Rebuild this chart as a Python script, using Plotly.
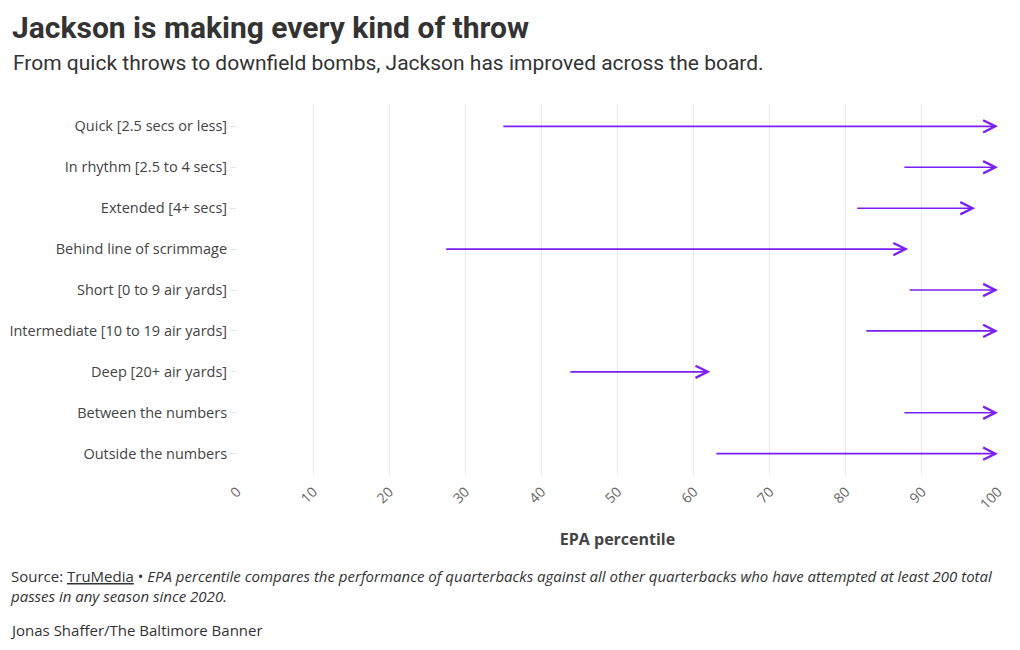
import plotly.graph_objects as go

categories = [
    "Quick [2.5 secs or less]",
    "In rhythm [2.5 to 4 secs]",
    "Extended [4+ secs]",
    "Behind line of scrimmage",
    "Short [0 to 9 air yards]",
    "Intermediate [10 to 19 air yards]",
    "Deep [20+ air yards]",
    "Between the numbers",
    "Outside the numbers",
]
before = [34.8, 87.5, 81.3, 27.3, 88.2, 82.5, 43.6, 87.5, 62.8]
after = [100, 100, 97, 88.2, 100, 100, 62.2, 100, 100]
x_ticks = [0, 10, 20, 30, 40, 50, 60, 70, 80, 90, 100]

PURPLE = "#7a1ff5"
FONT = "Open Sans"

# page body has an 8px margin, so figure coords = screen coords - 8
W, H = 1012, 642
L, R, T, B = 229, 22, 96, 174
PW, PH = W - L - R, H - T - B


def px(xs):
    return (xs - L) / PW


def py(ys):
    return 1 - (ys - T) / PH


fig = go.Figure()
fig.add_trace(go.Scatter(x=before + after, y=categories + categories, mode="markers",
                         marker=dict(opacity=0), hoverinfo="skip", showlegend=False))

for c, b, a in zip(categories, before, after):
    fig.add_annotation(
        x=a, y=c, xref="x", yref="y",
        ax=b, ay=c, axref="x", ayref="y",
        showarrow=True, arrowhead=5, arrowsize=1.5, arrowwidth=1.6,
        arrowcolor=PURPLE, text="", standoff=0, startstandoff=0,
    )

fig.update_layout(
    width=W, height=H,
    margin=dict(l=L, r=R, t=T, b=B, autoexpand=False),
    paper_bgcolor="white", plot_bgcolor="white",
    font=dict(family=FONT, color="#444"),
    showlegend=False,
    xaxis=dict(
        range=[0, 100], tickvals=x_ticks, tickangle=-45,
        showgrid=True, gridcolor="#ebebeb", gridwidth=1,
        zeroline=False, showline=False, automargin=False,
        tickfont=dict(size=14, color="#666"), ticks="", ticklabelstandoff=4,
        title=dict(text="<b>EPA percentile</b>", font=dict(size=16, color="#444"), standoff=22),
    ),
    yaxis=dict(
        categoryorder="array", categoryarray=categories, autorange="reversed",
        showgrid=False, zeroline=False, showline=False, automargin=False,
        ticks="outside", ticklen=6, tickcolor="#e6e6e6",
        tickfont=dict(size=14.5, color="#444"),
    ),
)

fig.add_annotation(
    text="<b>Jackson is making every kind of throw</b>",
    xref="paper", yref="paper", x=px(2), y=py(20), xanchor="left", yanchor="middle",
    showarrow=False, font=dict(family="Roboto", size=30, color="#333"),
)
fig.add_annotation(
    text="From quick throws to downfield bombs, Jackson has improved across the board.",
    xref="paper", yref="paper", x=px(3), y=py(55),
    xanchor="left", yanchor="middle",
    showarrow=False, font=dict(family="Roboto", size=21, color="#333"),
)
fig.add_annotation(
    text="Source: <u>TruMedia</u> • <i>EPA percentile compares the performance of quarterbacks against all other quarterbacks who have attempted at least 200 total</i><br><i>passes in any season since 2020.</i>",
    xref="paper", yref="paper", x=px(0), y=py(556),
    xanchor="left", yanchor="top", align="left",
    showarrow=False, font=dict(family=FONT, size=15, color="#333"),
)
fig.add_annotation(
    text="Jonas Shaffer/The Baltimore Banner",
    xref="paper", yref="paper", x=px(0), y=py(622),
    xanchor="left", yanchor="middle",
    showarrow=False, font=dict(family=FONT, size=15, color="#333"),
)

fig.write_html("out.html")
